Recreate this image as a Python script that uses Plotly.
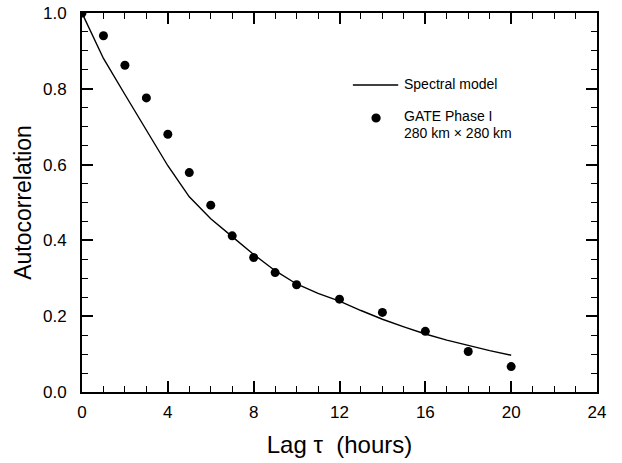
import plotly.graph_objects as go

# GATE Phase I observed autocorrelation
obs_lag = [0, 1, 2, 3, 4, 5, 6, 7, 8, 9, 10, 12, 14, 16, 18, 20]
obs_acf = [1.0, 0.94, 0.862, 0.776, 0.68, 0.579, 0.493, 0.412, 0.355, 0.315, 0.283, 0.245, 0.21, 0.16, 0.107, 0.067]

# Spectral model curve
model_lag = [0, 1, 2, 3, 4, 5, 6, 7, 8, 9, 10, 11, 12, 13, 14, 15, 16, 17, 18, 19, 20]
model_acf = [1.0, 0.88, 0.785, 0.69, 0.597, 0.515, 0.457, 0.41, 0.363, 0.32, 0.285, 0.26, 0.24, 0.215, 0.192, 0.172, 0.153, 0.137, 0.122, 0.109, 0.097]

x_ticks = [0, 4, 8, 12, 16, 20, 24]
y_ticks = [0.0, 0.2, 0.4, 0.6, 0.8, 1.0]
y_tick_text = ["0.0", "0.2", "0.4", "0.6", "0.8", "1.0"]

FONT = "Liberation Sans, Arial, Helvetica, sans-serif"

fig = go.Figure()
fig.add_trace(go.Scatter(x=model_lag, y=model_acf, mode="lines",
                         line=dict(color="black", width=1.4),
                         name="Spectral model", showlegend=False))
fig.add_trace(go.Scatter(x=obs_lag, y=obs_acf, mode="markers",
                         marker=dict(color="black", size=9),
                         name="GATE Phase I 280 km × 280 km", showlegend=False))
# invisible trace for the top/right tick axes
fig.add_trace(go.Scatter(x=[0], y=[0], xaxis="x2", yaxis="y2", mode="markers",
                         marker=dict(opacity=0), showlegend=False, hoverinfo="skip"))

fig.update_layout(
    xaxis=dict(range=[0, 24], tickvals=x_ticks, showline=True, linecolor="black", linewidth=2,
               mirror="ticks", ticks="inside", ticklen=11, tickwidth=1.6, tickcolor="black",
               showgrid=False, zeroline=False, automargin=False,
               minor=dict(dtick=1, ticks="inside", ticklen=6, tickwidth=1.4, tickcolor="black", showgrid=False),
               tickfont=dict(family=FONT, size=17, color="black"), ticklabelstandoff=4,
               ticklabeloverflow="allow",
               title=dict(text="Lag τ  (hours)", font=dict(family=FONT, size=24, color="black"), standoff=15)),
    yaxis=dict(range=[0, 1], tickvals=y_ticks, ticktext=y_tick_text, showline=True, linecolor="black", linewidth=2,
               mirror="ticks", ticks="inside", ticklen=11, tickwidth=1.6, tickcolor="black",
               showgrid=False, zeroline=False, automargin=False,
               minor=dict(dtick=0.05, ticks="inside", ticklen=6, tickwidth=1.4, tickcolor="black", showgrid=False),
               tickfont=dict(family=FONT, size=17, color="black"), ticklabelstandoff=10,
               ticklabeloverflow="allow",
               title=dict(text="Autocorrelation", font=dict(family=FONT, size=23, color="black"), standoff=5)),
    xaxis2=dict(range=[0, 24], overlaying="x", side="top", anchor="y2", tickmode="linear", tick0=0, dtick=1,
                showticklabels=False, showline=False, ticks="inside", ticklen=6, tickwidth=1.4,
                tickcolor="black", showgrid=False, zeroline=False, automargin=False),
    yaxis2=dict(range=[0, 1], overlaying="y", side="right", anchor="x2", tickmode="linear", tick0=0, dtick=0.05,
                showticklabels=False, showline=False, ticks="inside", ticklen=6, tickwidth=1.4,
                tickcolor="black", showgrid=False, zeroline=False, automargin=False),
)

# manual legend
ann_font = dict(family=FONT, size=14, color="black")
fig.add_shape(type="line", xref="paper", yref="paper", x0=0.526, x1=0.614, y0=0.810, y1=0.810,
              line=dict(color="black", width=1.3))
fig.add_shape(type="circle", xref="paper", yref="paper", x0=0.562, x1=0.580, y0=0.711, y1=0.735,
              fillcolor="black", line=dict(color="black", width=0))
fig.add_annotation(text="Spectral model", xref="paper", yref="paper", x=0.621, y=0.812,
                   xanchor="left", yanchor="middle", showarrow=False, font=ann_font)
fig.add_annotation(text="GATE Phase I", xref="paper", yref="paper", x=0.621, y=0.727,
                   xanchor="left", yanchor="middle", showarrow=False, font=ann_font)
fig.add_annotation(text="280 km × 280 km", xref="paper", yref="paper", x=0.621, y=0.683,
                   xanchor="left", yanchor="middle", showarrow=False, font=ann_font)

fig.update_layout(
    width=622, height=463,
    margin=dict(l=82, r=25, t=13, b=71),
    plot_bgcolor="white", paper_bgcolor="white",
    font=dict(family=FONT, color="black"),
    showlegend=False,
)

fig.write_html("out.html", config={"displayModeBar": False},
               post_script="document.body.style.margin='0';document.body.style.overflow='hidden';")
